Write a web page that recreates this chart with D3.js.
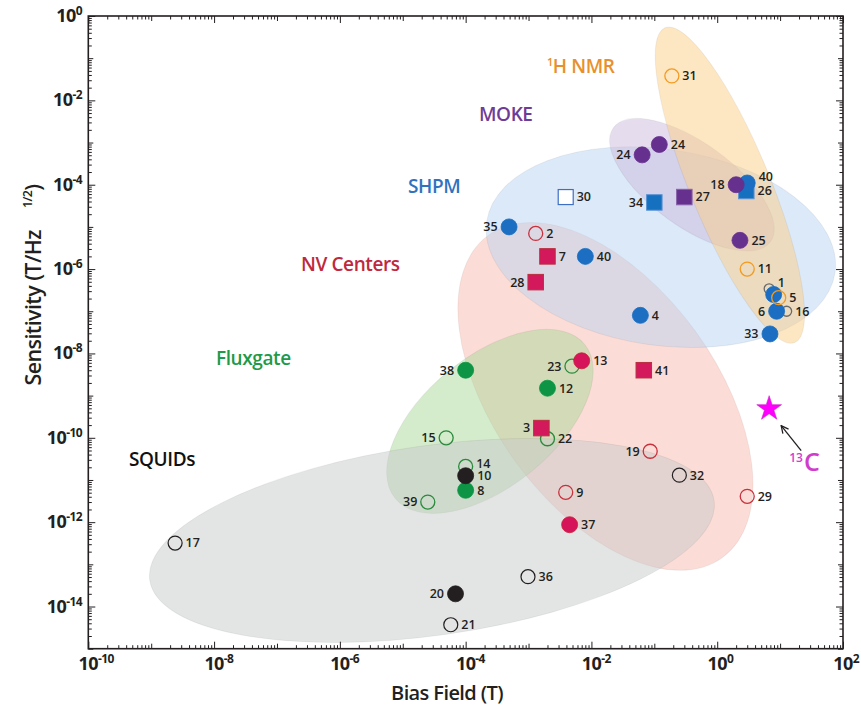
<!DOCTYPE html>
<html><head><meta charset="utf-8">
<script src="https://cdn.jsdelivr.net/npm/d3@7"></script>
<style>body{margin:0;background:#fff} text{font-family:"Open Sans",sans-serif}</style>
</head><body><svg id="c" width="861" height="709"></svg>
<script>
// ---------------- DATA ----------------
const refIds = ["17","21","20","36","39","14","8","10","15","38","12","23","13","22","3","9","37","19","32","29","41","4","28","7","2","35","40","30","34","27","24","24","31","26","40","18","25","11","1","16","","6","5","33"];
const biasField = [2.4e-9,5.8e-5,6.9e-5,9.8e-4,2.5e-5,1.0e-4,1.0e-4,1.0e-4,4.9e-5,1.0e-4,2.0e-3,4.9e-3,7.0e-3,2.0e-3,1.6e-3,3.9e-3,4.5e-3,0.086,0.25,3.0,0.068,0.06,1.3e-3,2.0e-3,1.3e-3,4.9e-4,8.0e-3,3.9e-3,0.1,0.3,0.064,0.12,0.19,2.9,3.0,2.0,2.3,3.0,6.7,12.7,7.9,8.8,9.5,6.9];
const sensitivity = [3.2e-13,3.7e-15,2.0e-14,5.1e-14,3.0e-12,2.1e-11,5.7e-12,1.26e-11,1.0e-10,4.0e-9,1.5e-9,5.0e-9,6.7e-9,9.5e-11,1.7e-10,5.1e-12,8.7e-13,4.8e-11,1.3e-11,4.1e-12,4.0e-9,8.0e-8,4.9e-7,2.0e-6,7.0e-6,1.0e-5,2.0e-6,5.1e-5,3.8e-5,5.1e-5,5.1e-4,9.0e-4,0.038,7.1e-5,1.1e-4,1.0e-4,4.8e-6,1.0e-6,3.4e-7,1.0e-7,2.5e-7,1.0e-7,2.1e-7,2.9e-8];
const markerKind = ["sqOpen","sqOpen","sqFill","sqOpen","fgOpen","fgOpen","fgFill","sqFill","fgOpen","fgFill","fgFill","fgOpen","nvFill","fgOpen","nvSq","nvOpen","nvFill","nvOpen","sqOpen","nvOpen","nvSq","shpm","nvSq","nvSq","nvOpen","shpm","shpm","shpmOpenSq","shpmSq","mokeSq","moke","moke","nmrOpen","shpmSq","shpm","moke","moke","nmrOpen","smallOpen","smallOpen","shpm","shpm","nmrOpen","shpm"];
const labelSide = ["r","r","l","r","l","ur","r","r","l","l","r","l","r","r","l","r","r","l","r","r","r","r","l","r","r","l","r","r","l","r","l","r","r","r","ur","l","r","r","ur","r","r","l","r","l"];

const regionNames = ["NV Centers","SHPM","MOKE","1H NMR","Fluxgate","SQUIDs"];
const regionCenterX = [0.0167,0.127,0.396,1.59,2.43e-4,2.91e-5];
const regionCenterY = [9.6e-10,3.3e-6,1.0e-4,9.8e-5,2.45e-10,3.67e-13];
const regionAxisEndX = [1.21,74.6,7.01,17.1,7.82e-3,0.893];
const regionAxisEndY = [1.45e-13,8.1e-7,4.46e-6,1.82e-8,1.63e-8,3.2e-12];
const regionWidthRatio = [0.558,0.557,0.43,0.235,0.533,0.333];
const regionLabelX = [2.41e-7,1.21e-5,1.63e-4,1.96e-3,1.07e-8,4.44e-10];
const regionLabelY = [8.9e-7,6.3e-5,3.22e-3,0.0444,5.2e-9,2.1e-11];

const starLabel = "13C";
const starX = [6.7];
const starY = [4.9e-10];

const xTickExponents = [-10,-8,-6,-4,-2,0,2];
const yTickExponents = [0,-2,-4,-6,-8,-10,-12,-14];

// ---------------- STYLE ----------------
const regionStyle = {
  "NV Centers": {fill:"#f9b9ad", text:"#c0283e"},
  "SHPM": {fill:"#b9d3f1", text:"#2f73c0"},
  "MOKE": {fill:"#cbb9db", text:"#6e3c97"},
  "1H NMR": {fill:"#fbcd85", text:"#e8902b"},
  "Fluxgate": {fill:"#a9d799", text:"#1e9a48"},
  "SQUIDs": {fill:"#c7c9c9", text:"#111111"}
};
const kindStyle = {
  shpm:{shape:"circle",r:8,fill:"#1b6ec2",stroke:"#1b6ec2",sw:0.8},
  shpmSq:{shape:"square",s:15.5,fill:"#1570c0",stroke:"#5a93d3",sw:1},
  shpmOpenSq:{shape:"square",s:15,fill:"#ffffff",stroke:"#3f6fc4",sw:1.2},
  moke:{shape:"circle",r:8,fill:"#66308f",stroke:"#66308f",sw:0.8},
  mokeSq:{shape:"square",s:15.5,fill:"#66308f",stroke:"#8a62aa",sw:1},
  nmrOpen:{shape:"circle",r:7,fill:"none",stroke:"#f39a20",sw:1.3},
  nvOpen:{shape:"circle",r:7,fill:"none",stroke:"#c8303c",sw:1.3},
  nvFill:{shape:"circle",r:8,fill:"#d5145a",stroke:"#c8203c",sw:0.8},
  nvSq:{shape:"square",s:15.5,fill:"#d3185b",stroke:"#b83040",sw:1},
  fgFill:{shape:"circle",r:8,fill:"#0d9444",stroke:"#0d9444",sw:0.8},
  fgOpen:{shape:"circle",r:7,fill:"none",stroke:"#2a8a3c",sw:1.3},
  sqFill:{shape:"circle",r:8,fill:"#231f20",stroke:"#231f20",sw:0.8},
  sqOpen:{shape:"circle",r:7,fill:"none",stroke:"#231f20",sw:1.2},
  smallOpen:{shape:"circle",r:5,fill:"none",stroke:"#6a6a6a",sw:1.3}
};

// ---------------- CHART ----------------
const svg = d3.select("#c");
const L=88.3, R=843, T=16, B=648.7;
const x = d3.scaleLog().domain([1e-10,1e2]).range([L,R]);
const y = d3.scaleLog().domain([1e-15,1]).range([B,T]);

// regions
const gR = svg.append("g");
regionNames.forEach((n,i)=>{
  const cx=x(regionCenterX[i]), cy=y(regionCenterY[i]);
  const ex=x(regionAxisEndX[i]), ey=y(regionAxisEndY[i]);
  const a=Math.hypot(ex-cx,ey-cy);
  const ang=Math.atan2(ey-cy,ex-cx)*180/Math.PI;
  gR.append("ellipse").attr("rx",a).attr("ry",a*regionWidthRatio[i])
    .attr("transform",`translate(${cx},${cy}) rotate(${ang})`)
    .attr("fill",regionStyle[n].fill).attr("fill-opacity",0.5)
    .attr("stroke","#000").attr("stroke-opacity",0.05).attr("stroke-width",1);
});

// region labels
regionNames.forEach((n,i)=>{
  const t=svg.append("text").attr("x",x(regionLabelX[i])).attr("y",y(regionLabelY[i]))
    .attr("font-size",19).attr("font-weight",600).attr("letter-spacing",-0.4)
    .attr("fill",regionStyle[n].text);
  if(n==="1H NMR"){
    t.append("tspan").attr("font-size",11).attr("dy",-7).text("1");
    t.append("tspan").attr("dy",7).text("H NMR");
  } else t.text(n);
});

// axes ticks
function tickVals(lo,hi){const t=[];for(let e=lo;e<hi;e++)for(let k=1;k<10;k++)t.push(+(k+"e"+e));t.push(+("1e"+hi));return t;}
function tlen(d){const e=Math.log10(d),r=Math.round(e);if(Math.abs(e-r)<1e-6)return r%2===0?7:5;return 3.5;}
const xt=tickVals(-10,2), yt=tickVals(-15,0);
const axB=svg.append("g").attr("transform",`translate(0,${B})`).call(d3.axisBottom(x).tickValues(xt).tickFormat("").tickSizeOuter(0));
axB.selectAll(".tick line").attr("y2",d=>-tlen(d));
const axT=svg.append("g").attr("transform",`translate(0,${T})`).call(d3.axisTop(x).tickValues(xt).tickFormat("").tickSizeOuter(0));
axT.selectAll(".tick line").attr("y2",d=>tlen(d));
const axL=svg.append("g").attr("transform",`translate(${L},0)`).call(d3.axisLeft(y).tickValues(yt).tickFormat("").tickSizeOuter(0));
axL.selectAll(".tick line").attr("x2",d=>tlen(d));
const axRr=svg.append("g").attr("transform",`translate(${R},0)`).call(d3.axisRight(y).tickValues(yt).tickFormat("").tickSizeOuter(0));
axRr.selectAll(".tick line").attr("x2",d=>-tlen(d));
svg.selectAll(".domain").remove();
svg.selectAll(".tick line").attr("stroke","#231f20").attr("stroke-width",1);
svg.append("rect").attr("x",L).attr("y",T).attr("width",R-L).attr("height",B-T)
  .attr("fill","none").attr("stroke","#231f20").attr("stroke-width",1.6);

// tick labels
xTickExponents.forEach(e=>{
  const t=svg.append("text").attr("y",670).attr("font-size",18).attr("font-weight",700).attr("letter-spacing",-0.6).attr("fill","#231f20");
  const b=t.append("tspan").text("10");
  t.append("tspan").attr("dy",-7).attr("font-size",12).text(e);
  const w=b.node().getComputedTextLength();
  t.attr("x",x(+("1e"+e))-w/2);
});
yTickExponents.forEach(e=>{
  const t=svg.append("text").attr("x",82).attr("y",y(+("1e"+e))+6).attr("text-anchor","end")
    .attr("font-size",18).attr("font-weight",700).attr("letter-spacing",-0.6).attr("fill","#231f20");
  t.append("tspan").text("10");
  t.append("tspan").attr("dy",-7).attr("font-size",12).text(e);
});

// axis titles
svg.append("text").attr("x",447).attr("y",700).attr("text-anchor","middle").attr("font-size",20)
  .attr("font-weight",600).attr("letter-spacing",-0.6).attr("fill","#231f20").text("Bias Field (T)");
const yt2=svg.append("text").attr("transform","translate(41,285) rotate(-90)").attr("text-anchor","middle")
  .attr("font-size",21.5).attr("font-weight",600).attr("letter-spacing",-0.6).attr("fill","#231f20");
yt2.append("tspan").text("Sensitivity (T/Hz");
yt2.append("tspan").attr("font-size",12.5).attr("dx",22).attr("dy",-9).text("1/2");
yt2.append("tspan").attr("dy",9).text(")");

// markers
const gP=svg.append("g");
refIds.forEach((id,i)=>{
  const st=kindStyle[markerKind[i]];
  const px=x(biasField[i]), py=y(sensitivity[i]);
  if(st.shape==="circle"){
    gP.append("circle").attr("cx",px).attr("cy",py).attr("r",st.r).attr("fill",st.fill)
      .attr("stroke",st.stroke).attr("stroke-width",st.sw);
  } else {
    gP.append("rect").attr("x",px-st.s/2).attr("y",py-st.s/2).attr("width",st.s).attr("height",st.s)
      .attr("fill",st.fill).attr("stroke",st.stroke).attr("stroke-width",st.sw);
  }
  if(id){
    const r=st.shape==="circle"?st.r:st.s/2;
    const side=labelSide[i];
    const t=gP.append("text").attr("font-size",12.5).attr("font-weight",600).attr("fill","#231f20").text(id);
    if(side==="l") t.attr("x",px-r-3.5).attr("y",py).attr("dy","0.35em").attr("text-anchor","end");
    else if(side==="ur") t.attr("x",px+r+3.5).attr("y",py-(id==="14"?3:6)).attr("dy","0.35em");
    else t.attr("x",px+r+3.5).attr("y",py).attr("dy","0.35em");
  }
});

// star
const sx=x(starX[0]), sy=y(starY[0]);
svg.append("path").attr("d",d3.symbol(d3.symbolStar).size(190)()).attr("transform",`translate(${sx},${sy})`)
  .attr("fill","#ff00ff").attr("stroke","#d21fcf").attr("stroke-width",0.6);
svg.append("defs").append("marker").attr("id","ah").attr("viewBox","0 0 10 10").attr("refX",9).attr("refY",5)
  .attr("markerWidth",7).attr("markerHeight",7).attr("orient","auto-start-reverse")
  .append("path").attr("d","M1,1 L9,5 L1,9").attr("fill","none").attr("stroke","#231f20").attr("stroke-width",1.4);
svg.append("line").attr("x1",sx+32).attr("y1",sy+42).attr("x2",sx+12).attr("y2",sy+17)
  .attr("stroke","#231f20").attr("stroke-width",1.3).attr("marker-end","url(#ah)");
const cl=svg.append("text").attr("x",sx+20).attr("y",sy+62).attr("fill","#d13ccc").attr("font-weight",600);
cl.append("tspan").attr("font-size",12).attr("dy",-9).text(starLabel.slice(0,2));
cl.append("tspan").attr("font-size",25).attr("dy",9).attr("dx",1).text(starLabel.slice(2));
</script></body></html>
